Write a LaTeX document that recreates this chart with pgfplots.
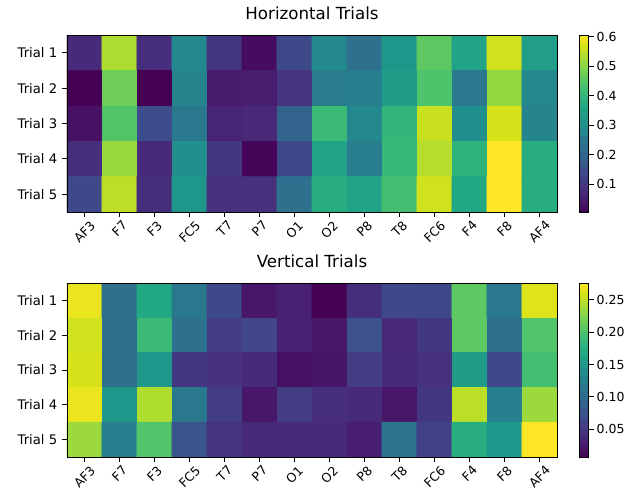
\documentclass[border=0pt]{standalone}
\usepackage{fontspec}
\setmainfont{DejaVu Sans}
\usepackage{graphicx}
\usepackage{pgfplots}
\pgfplotsset{compat=1.18}

\pgfplotstableread{
x y c
0 0 0.077
1 0 0.533
2 0 0.083
3 0 0.287
4 0 0.101
5 0 0.023
6 0 0.137
7 0 0.287
8 0 0.227
9 0 0.323
10 0 0.455
11 0 0.353
12 0 0.563
13 0 0.341
0 1 0.005
1 1 0.473
2 1 0.005
3 1 0.275
4 1 0.047
5 1 0.053
6 1 0.095
7 1 0.251
8 1 0.263
9 1 0.335
10 1 0.437
11 1 0.245
12 1 0.509
13 1 0.287
0 2 0.029
1 2 0.443
2 2 0.143
3 2 0.245
4 2 0.065
5 2 0.071
6 2 0.197
7 2 0.413
8 2 0.287
9 2 0.401
10 2 0.557
11 2 0.305
12 2 0.569
13 2 0.275
0 3 0.083
1 3 0.515
2 3 0.077
3 3 0.305
4 3 0.101
5 3 0.011
6 3 0.137
7 3 0.353
8 3 0.257
9 3 0.407
10 3 0.539
11 3 0.395
12 3 0.605
13 3 0.377
0 4 0.137
1 4 0.545
2 4 0.083
3 4 0.323
4 4 0.089
5 4 0.089
6 4 0.227
7 4 0.377
8 4 0.353
9 4 0.425
10 4 0.563
11 4 0.365
12 4 0.605
13 4 0.377
}\horiz

\pgfplotstableread{
x y c
0 0 0.268
1 0 0.107
2 0 0.168
3 0 0.115
4 0 0.066
5 0 0.023
6 0 0.031
7 0 0.007
8 0 0.042
9 0 0.066
10 0 0.064
11 0 0.209
12 0 0.115
13 0 0.263
0 1 0.257
1 1 0.104
2 1 0.190
3 1 0.107
4 1 0.055
5 1 0.063
6 1 0.031
7 1 0.024
8 1 0.074
9 1 0.037
10 1 0.050
11 1 0.209
12 1 0.107
13 1 0.203
0 2 0.260
1 2 0.107
2 2 0.150
3 2 0.050
4 2 0.045
5 2 0.039
6 2 0.018
7 2 0.022
8 2 0.055
9 2 0.039
10 2 0.045
11 2 0.155
12 2 0.066
13 2 0.195
0 3 0.268
1 3 0.150
2 3 0.244
3 3 0.115
4 3 0.055
5 3 0.023
6 3 0.055
7 3 0.042
8 3 0.039
9 3 0.023
10 3 0.050
11 3 0.249
12 3 0.123
13 3 0.236
0 4 0.236
1 4 0.123
2 4 0.203
3 4 0.077
4 4 0.047
5 4 0.039
6 4 0.039
7 4 0.039
8 4 0.029
9 4 0.109
10 4 0.058
11 4 0.174
12 4 0.150
13 4 0.276
}\vert

\pgfplotsset{
  hm/.style={
    scale only axis, width=352.8pt,
    xmin=-0.5, xmax=13.5, ymin=-0.5, ymax=4.5, y dir=reverse,
    enlargelimits=false, axis on top,
    axis line style={black, line width=0.6pt},
    xtick={0,...,13}, ytick={0,...,4},
    yticklabels={Trial 1,Trial 2,Trial 3,Trial 4,Trial 5},
    xticklabels={\rotatebox{45}{AF3},\rotatebox{45}{F7},\rotatebox{45}{F3},\rotatebox{45}{FC5},\rotatebox{45}{T7},\rotatebox{45}{P7},\rotatebox{45}{O1},\rotatebox{45}{O2},\rotatebox{45}{P8},\rotatebox{45}{T8},\rotatebox{45}{FC6},\rotatebox{45}{F4},\rotatebox{45}{F8},\rotatebox{45}{AF4}},
    tick align=outside, tick pos=left, major tick length=3.5pt,
    tick style={black, line width=0.6pt},
    yticklabel style={font=\fontsize{9.5}{11}\selectfont},
    xticklabel style={font=\fontsize{9}{11}\selectfont, inner sep=1pt, yshift=-1pt},
    title style={font=\fontsize{12}{14}\selectfont, at={(0.5,1)}, anchor=south, yshift=5pt, inner sep=0pt},
    colormap name=viridis, colorbar,
    /pgf/number format/assume math mode=true,
  },
  cb/.style={
    at={(parent axis.north east)}, anchor=north west, xshift=7.9pt,
    width=6.48pt, tick align=outside, ytick pos=right,
    major tick length=3.5pt,
    tick style={black, line width=0.6pt},
    axis line style={black, line width=0.5pt},
    yticklabel style={font=\fontsize{9}{11}\selectfont, inner sep=2pt},
    /pgf/number format/assume math mode=true,
  }
}

\begin{document}
\begin{tikzpicture}
\useasboundingbox (-48.24pt,-202.32pt) rectangle (405.36pt,152.64pt);
\begin{axis}[hm, at={(0,0)}, anchor=south west, height=127.44pt,
  title={Horizontal Trials},
  point meta min=0.005, point meta max=0.605,
  colorbar style={cb, ytick={0.1,0.2,0.3,0.4,0.5,0.6},
    yticklabels={0.1,0.2,0.3,0.4,0.5,0.6}}]
\addplot[matrix plot*, mesh/cols=14, point meta=explicit] table[x=x, y=y, meta=c] {\horiz};
\end{axis}
\begin{axis}[hm, at={(0,-176.4pt)}, anchor=south west, height=125.28pt,
  title={Vertical Trials},
  point meta min=0.007, point meta max=0.276,
  colorbar style={cb, ytick={0.05,0.10,0.15,0.20,0.25},
    yticklabels={0.05,0.10,0.15,0.20,0.25}}]
\addplot[matrix plot*, mesh/cols=14, point meta=explicit] table[x=x, y=y, meta=c] {\vert};
\end{axis}
\end{tikzpicture}
\end{document}
